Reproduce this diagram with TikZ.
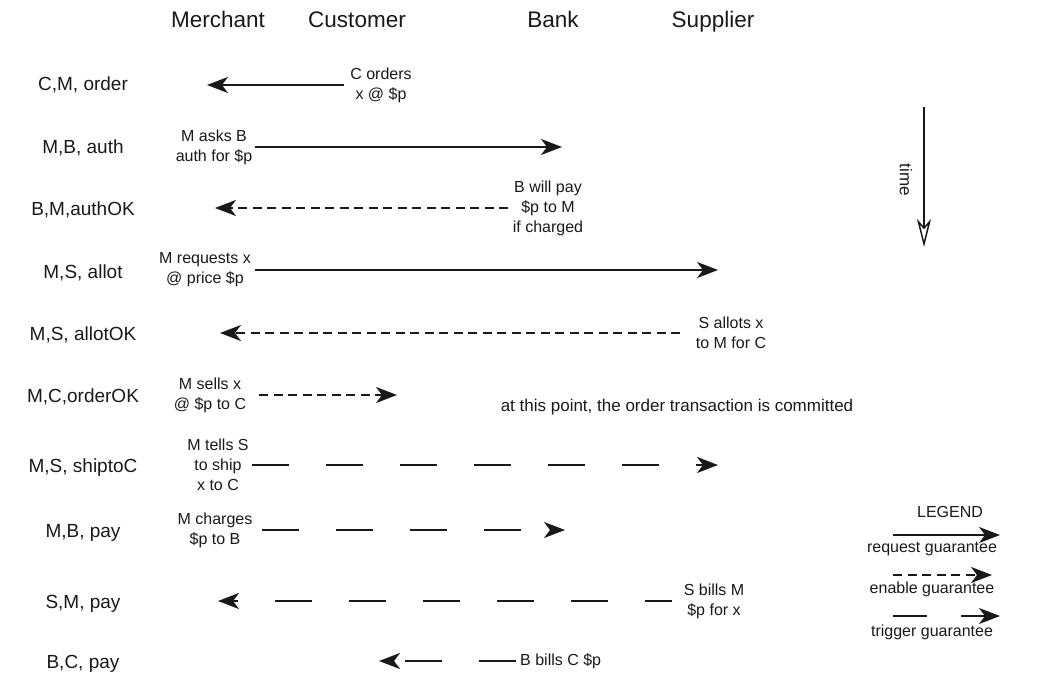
\documentclass[tikz,border=0pt]{standalone}
\usepackage{fontspec}
\setmainfont{Liberation Sans}
\usetikzlibrary{arrows.meta}
\begin{document}
\begin{tikzpicture}[x=1pt,y=-1pt,
 every node/.style={text=black!90},
 head/.style={font=\fontsize{22.5}{26}\selectfont, inner sep=0pt, anchor=base},
 rowlab/.style={font=\fontsize{19}{22}\selectfont, inner sep=0pt, anchor=base},
 msg/.style={font=\fontsize{16}{20}\selectfont, align=center, inner sep=0pt},
 req/.style={line width=2pt, draw=black!90, -{Stealth[length=21pt,width=16pt,inset=6pt]}},
 ena/.style={req, dash pattern=on 9pt off 5.5pt},
 trg/.style={req, dash pattern=on 37pt off 37pt},
]
\useasboundingbox (0,0) rectangle (1046,676);
% headers
\node[head] (hM) at (218,28) {Merchant};
\node[head] (hC) at (357,28) {Customer};
\node[head] (hB) at (553,28) {Bank};
\node[head] (hS) at (713,28) {Supplier};
% row labels
\node[rowlab] (r1) at (83,91) {C,M, order};
\node[rowlab] (r2) at (83,154) {M,B, auth};
\node[rowlab] (r3) at (83,216) {B,M,authOK};
\node[rowlab] (r4) at (83,278) {M,S, allot};
\node[rowlab] (r5) at (83,340) {M,S, allotOK};
\node[rowlab] (r6) at (83,402) {M,C,orderOK};
\node[rowlab] (r7) at (83,472) {M,S, shiptoC};
\node[rowlab] (r8) at (83,537) {M,B, pay};
\node[rowlab] (r9) at (83,608) {S,M, pay};
\node[rowlab] (r10) at (83,668) {B,C, pay};
% row 1
\node[msg] (m1) at (381,85) {C orders\\x @ \$p};
\coordinate (e1) at (207,85);
\draw[req] (m1.west) ++(-6,0) coordinate (s1) (s1) -- (e1);
% row 2
\node[msg] (m2) at (214,147) {M asks B\\auth for \$p};
\coordinate (e2) at (562,147);
\draw[req] (m2.east) ++(3,0) coordinate (s2) (s2) -- (e2);
% row 3
\node[msg] (m3) at (548,208) {B will pay\\\$p to M\\if charged};
\coordinate (e3) at (215,208);
\draw[ena] (508,208) coordinate (s3) (s3) -- (e3);
% row 4
\node[msg] (m4) at (205,270) {M requests x\\@ price \$p};
\coordinate (e4) at (718,270);
\draw[req] (255,270) coordinate (s4) (s4) -- (e4);
% row 5
\node[msg] (m5) at (731,333) {S allots x\\to M for C};
\coordinate (e5) at (220,333);
\draw[ena] (680,333) coordinate (s5) (s5) -- (e5);
% row 6
\node[msg] (m6) at (210,395) {M sells x\\@ \$p to C};
\coordinate (e6) at (397,395);
\draw[ena] (259,395) coordinate (s6) (s6) -- (e6);
\node[msg, font=\fontsize{17}{20}\selectfont] (note) at (677,407) {at this point, the order transaction is committed};
% row 7
\node[msg] (m7) at (218,465) {M tells S\\to ship\\x to C};
\coordinate (e7) at (718,465);
\draw[trg] (252,465) coordinate (s7) (s7) -- (e7);
% row 8
\node[msg] (m8) at (215,530) {M charges\\\$p to B};
\coordinate (e8) at (565,530);
\draw[trg] (262,530) coordinate (s8) (s8) -- (e8);
% row 9
\node[msg] (m9) at (714,601) {S bills M\\\$p for x};
\coordinate (e9) at (218,601);
\draw[trg, dash phase=10pt] (672,601) coordinate (s9) (s9) -- (e9);
% row 10
\node[msg, anchor=west] (m10) at (520,661) {B bills C \$p};
\coordinate (e10) at (379,661);
\draw[trg] (516,661) coordinate (s10) (s10) -- (e10);
% time
\coordinate (t0) at (924,107);
\coordinate (t1) at (924,247);
\draw[line width=1.5pt, draw=black!90, -{Stealth[open,length=28pt,width=14pt,inset=8pt]}] (t0) -- (t1);
\node[msg, font=\fontsize{17}{20}\selectfont, rotate=-90] (time) at (906,180) {time};
% legend
\node[msg] (leg) at (950,512) {LEGEND};
\node[msg] (l1) at (932,549) {request guarantee};
\node[msg] (l2) at (932,589) {enable guarantee};
\node[msg] (l3) at (932,632) {trigger guarantee};
\coordinate (la) at (893,535); \coordinate (lb) at (1000,535);
\coordinate (lc) at (893,575); \coordinate (ld) at (992,575);
\coordinate (le) at (893,616); \coordinate (lf) at (1000,616);
\draw[req] (la) -- (lb);
\draw[ena] (lc) -- (ld);
\draw[req, dash pattern=on 34pt off 34pt] (le) -- (lf);
\end{tikzpicture}
\end{document}
